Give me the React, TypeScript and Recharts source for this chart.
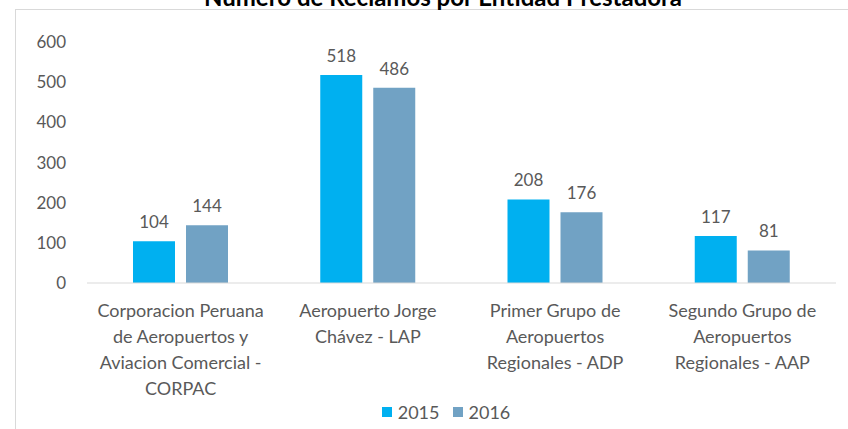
import React from 'react';
import { BarChart, Bar, XAxis, YAxis, LabelList } from 'recharts';

const categories = [
  'Corporacion Peruana de Aeropuertos y Aviacion Comercial - CORPAC',
  'Aeropuerto Jorge Chávez - LAP',
  'Primer Grupo de Aeropuertos Regionales - ADP',
  'Segundo Grupo de Aeropuertos Regionales - AAP',
];
const categoryLines = [
  ['Corporacion Peruana', 'de Aeropuertos y', 'Aviacion Comercial -', 'CORPAC'],
  ['Aeropuerto Jorge', 'Chávez - LAP'],
  ['Primer Grupo de', 'Aeropuertos', 'Regionales - ADP'],
  ['Segundo Grupo de', 'Aeropuertos', 'Regionales - AAP'],
];
const values2015 = [104, 518, 208, 117];
const values2016 = [144, 486, 176, 81];
const yTicks = [0, 100, 200, 300, 400, 500, 600];

const data = categories.map((name, i) => ({
  name,
  y2015: values2015[i],
  y2016: values2016[i],
}));

const FONT = 'Lato, "Open Sans", sans-serif';
const TEXT = '#595959';
const C2015 = '#00B0F0';
const C2016 = '#71A2C4';

const CategoryTick = (props: any) => {
  const { x, y, payload } = props;
  const idx = categories.indexOf(payload.value);
  const lines = categoryLines[idx] || [payload.value];
  return (
    <g>
      {lines.map((line, i) => (
        <text
          key={i}
          x={x}
          y={y + 34 + i * 26}
          textAnchor="middle"
          fill={TEXT}
          fontSize={18}
          fontFamily={FONT}
        >
          {line}
        </text>
      ))}
    </g>
  );
};

const App = () => {
  return (
    <div
      style={{
        position: 'absolute',
        top: 0,
        left: 0,
        width: 848,
        height: 429,
        overflow: 'hidden',
        background: '#fff',
      }}
    >
      <svg width={848} height={429} style={{ position: 'absolute', top: 0, left: 0 }}>
        <rect x={15.5} y={9.5} width={900} height={500} fill="none" stroke="#D9D9D9" />
        <text
          x={443}
          y={6}
          textAnchor="middle"
          fontSize={24}
          fontWeight="bold"
          fill="#000"
          fontFamily={FONT}
        >
          Número de Reclamos por Entidad Prestadora
        </text>
      </svg>
      <div style={{ position: 'absolute', top: 0, left: 0 }}>
        <BarChart
          width={848}
          height={429}
          data={data}
          margin={{ top: 42, right: 12, left: 0, bottom: 0 }}
          barSize={42}
          barGap={11}
          barCategoryGap={46}
        >
          <XAxis
            dataKey="name"
            height={146}
            interval={0}
            tickLine={false}
            tickSize={0}
            tickMargin={0}
            axisLine={{ stroke: '#D9D9D9' }}
            tick={<CategoryTick />}
          />
          <YAxis
            width={87}
            domain={[0, 600]}
            ticks={yTicks}
            axisLine={false}
            tickLine={false}
            tickSize={0}
            tickMargin={21}
            tick={{ fill: TEXT, fontSize: 17, fontFamily: FONT }}
          />
          <Bar dataKey="y2015" fill={C2015} isAnimationActive={false}>
            <LabelList
              dataKey="y2015"
              position="top"
              offset={13}
              fill={TEXT}
              fontSize={17}
              fontFamily={FONT}
            />
          </Bar>
          <Bar dataKey="y2016" fill={C2016} isAnimationActive={false}>
            <LabelList
              dataKey="y2016"
              position="top"
              offset={13}
              fill={TEXT}
              fontSize={17}
              fontFamily={FONT}
            />
          </Bar>
        </BarChart>
      </div>
      <div
        style={{
          position: 'absolute',
          top: 401,
          left: 0,
          width: 892,
          display: 'flex',
          justifyContent: 'center',
          alignItems: 'center',
          fontFamily: FONT,
          fontSize: 18,
          color: TEXT,
        }}
      >
        <span style={{ width: 10, height: 10, background: C2015, marginRight: 6 }} />
        <span style={{ marginRight: 13 }}>2015</span>
        <span style={{ width: 10, height: 10, background: C2016, marginRight: 6 }} />
        <span>2016</span>
      </div>
    </div>
  );
};

export default App;
